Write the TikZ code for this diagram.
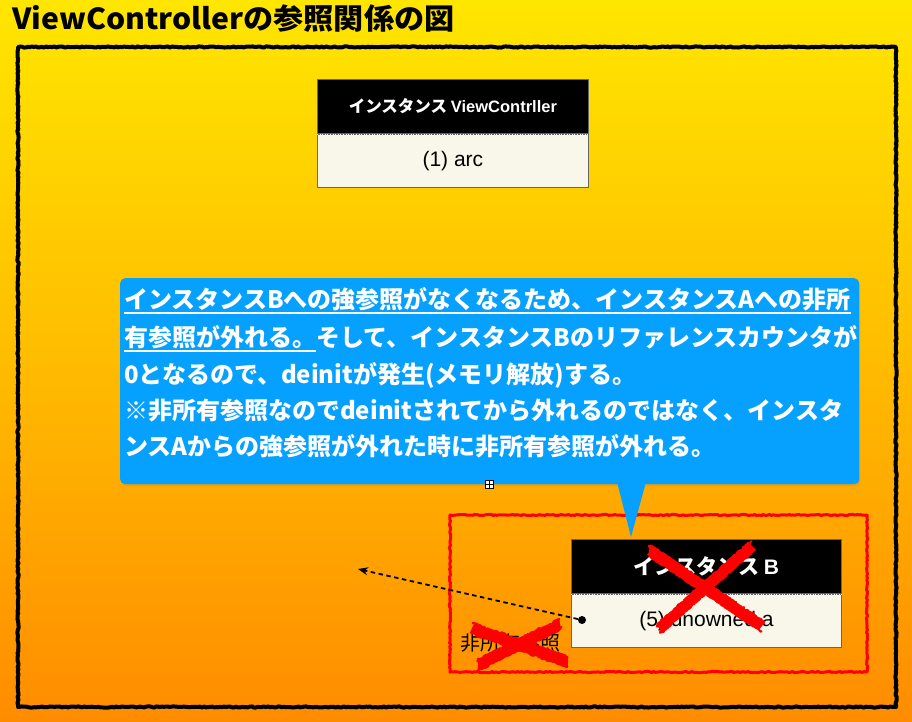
\documentclass[tikz,border=0pt]{standalone}
\usepackage{fontspec}
\setmainfont{Noto Sans CJK JP}
\newfontfamily\lat{Liberation Sans}
\usetikzlibrary{calc,arrows.meta,decorations.pathmorphing,shadows}
\definecolor{bgtop}{RGB}{255,230,0}
\definecolor{bgmid}{RGB}{255,188,0}
\definecolor{bgbot}{RGB}{255,140,0}
\definecolor{callblue}{RGB}{6,160,255}
\definecolor{cream}{RGB}{249,247,234}
\definecolor{xred}{RGB}{255,0,0}
\newcommand\myfs[1]{\fontsize{#1}{#1}\selectfont}
\begin{document}
\begin{tikzpicture}[x=1pt,y=-1pt,
  rough/.style={decorate,decoration={random steps,segment length=2pt,amplitude=0.6pt}, line join=round},
  hdr/.style={draw=black!60, line width=0.8pt, fill=black, text=white, inner sep=0pt, anchor=north west},
  bodybox/.style={draw=black!60, line width=0.8pt, fill=cream, text=black, inner sep=0pt, anchor=north},
  cline/.style={anchor=base west, inner sep=0pt, text=white, font=\bfseries\myfs{24}},
  xmark/.style={draw=xred, line width=11pt, line join=round, decorate, decoration={random steps,segment length=2pt,amplitude=1pt}},
  xfuzz/.style={draw=xred, line width=2pt, line join=round, decorate, decoration={random steps,segment length=1.5pt,amplitude=1.5pt}},
]
\useasboundingbox (0,0) rectangle (912,721);
\shade[top color=bgtop, bottom color=bgbot, middle color=bgmid] (0,0) rectangle (912,721);

% title
\node[anchor=base west, inner sep=0pt, font=\bfseries\myfs{29}, xscale=1.04] (title) at (12,29) {ViewControllerの参照関係の図};

% black frame
\draw[black, line width=4pt, rough] (18,47) rectangle (896,707);

% ViewController instance
\node[hdr, minimum width=271pt, minimum height=54pt, font=\bfseries\myfs{16.5}] (vch) at (317,79) {インスタンス {\lat ViewContrller}};
\node[bodybox, minimum width=271pt, minimum height=53pt, font=\lat\myfs{21}] (vcb) at (vch.south) {(1) arc};
\draw[white, dotted, line width=0.6pt] (vcb.north west) -- (vcb.north east);

% red region
\draw[xred, line width=3pt, rough] (450,515) rectangle (867,672);

% callout
\node[fill=callblue, rounded corners=5pt, minimum width=739pt, minimum height=206pt, anchor=north west, inner sep=0pt,
      drop shadow={opacity=0.25, shadow xshift=1pt, shadow yshift=-2pt}] (callout) at (120,278) {};
\coordinate (ptip) at (631,537);
\fill[callblue] (617,482) -- (646,482) -- (ptip) -- cycle;
\node[cline] (l1) at (124,308) {インスタンスBへの強参照がなくなるため、インスタンスAへの非所};
\node[cline] (l2a) at (124,346) {有参照が外れる。};
\node[cline] (l2b) at (l2a.base east) {そして、インスタンスBのリファレンスカウンタが};
\node[cline] (l3) at (124,383) {0となるので、deinitが発生(メモリ解放)する。};
\node[cline] (l4) at (124,419) {※非所有参照なのでdeinitされてから外れるのではなく、インスタ};
\node[cline] (l5) at (124,455) {ンスAからの強参照が外れた時に非所有参照が外れる。};
\draw[white, line width=1.2pt] ($(l1.base west)+(0,5)$) -- ($(l1.base east)+(0,5)$);
\draw[white, line width=1.2pt] ($(l2a.base west)+(0,5)$) -- ($(l2a.base east)+(0,5)$);

% handle icon
\node[draw=black, fill=white, line width=0.6pt, minimum size=8pt, inner sep=0pt] (handle) at (489,484) {};
\draw[line width=0.6pt] (handle.north) -- (handle.south) (handle.west) -- (handle.east);

% instance B
\node[hdr, minimum width=270pt, minimum height=54pt, font=\bfseries\myfs{21}] (bh) at (571,539) {インスタンス {\lat B}};
\node[bodybox, minimum width=270pt, minimum height=53pt, font=\lat\myfs{21}] (bb) at (bh.south) {(5) unowned a};
\draw[white, dotted, line width=0.6pt] (bb.north west) -- (bb.north east);

% unowned reference
\node[circle, fill=black, inner sep=0pt, minimum size=8pt] (dot) at (582,620) {};
\coordinate (atip) at (358,569);
\draw[dashed, dash pattern=on 4.5pt off 3.5pt, line width=1.8pt, -{Stealth[length=10pt,width=8pt]}] (dot) -- (atip);
\node[inner sep=0pt, font=\myfs{20}] (lbl) at (510,643) {非所有参照};

% red crosses
\foreach \ax/\ay/\bx/\by in {649/550/762/626, 752/546/660/628, 472/628/568/662, 478/665/560/624} {
  \draw[xmark] (\ax,\ay) -- (\bx,\by);
  \draw[xfuzz] (\ax,\ay+5) -- (\bx,\by+5);
  \draw[xfuzz] (\ax,\ay-5) -- (\bx,\by-5);
}
\end{tikzpicture}
\end{document}
